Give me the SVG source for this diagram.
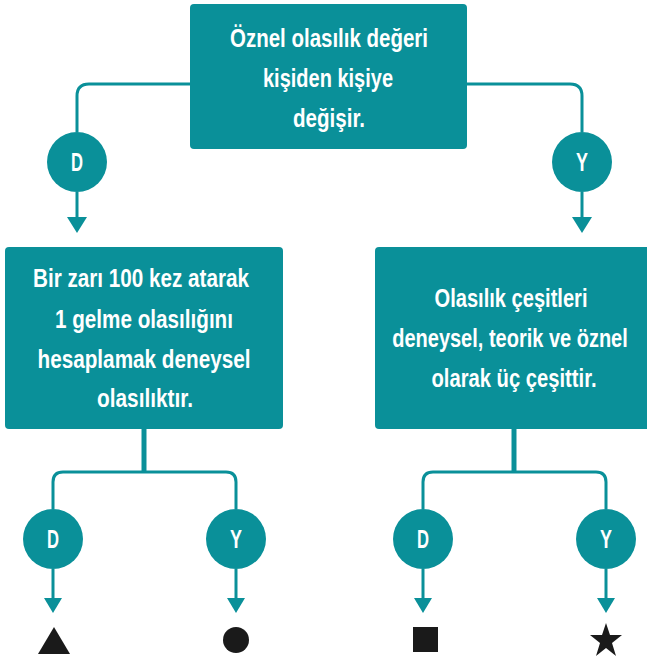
<svg xmlns="http://www.w3.org/2000/svg" width="647" height="663" viewBox="0 0 647 663">
<defs>
<style>
.box{fill:#0a9099;}
.t{font-family:"Liberation Sans",Arial,sans-serif;font-weight:bold;font-size:25px;fill:#fff;text-anchor:middle;}
.c{fill:#0a9099;}
.ct{font-family:"Liberation Sans",Arial,sans-serif;font-weight:bold;font-size:25px;fill:#fff;text-anchor:middle;}
.ln{fill:none;stroke:#0a9099;stroke-width:3;}
.thick{fill:none;stroke:#0a9099;stroke-width:5;}
.ah{fill:#0a9099;}
.sym{fill:#1a1a1a;}
</style>
</defs>
<rect width="647" height="663" fill="#fff"/>
<g id="connectors">
<path class="ln" d="M190,84 H89 Q77,84 77,96 V132"/>
<path class="ln" d="M77,192 V220"/>
<polygon class="ah" points="67,217 87,217 77,233"/>
<path class="ln" d="M467,84 H570 Q582,84 582,96 V132"/>
<path class="ln" d="M582,192 V220"/>
<polygon class="ah" points="572,217 592,217 582,233"/>
<path class="thick" d="M144,429 V472"/>
<path class="ln" d="M53,509 V482 Q53,472 63,472 H226 Q236,472 236,482 V509"/>
<path class="ln" d="M53,569 V600"/>
<polygon class="ah" points="44,598 62,598 53,613"/>
<path class="ln" d="M236,569 V600"/>
<polygon class="ah" points="227,598 245,598 236,613"/>
<path class="thick" d="M514,429 V472"/>
<path class="ln" d="M423,509 V482 Q423,472 433,472 H596 Q606,472 606,482 V509"/>
<path class="ln" d="M423,569 V600"/>
<polygon class="ah" points="414,598 432,598 423,613"/>
<path class="ln" d="M606,569 V600"/>
<polygon class="ah" points="597,598 615,598 606,613"/>
</g>
<g id="top">
<rect class="box" x="190" y="4" width="277" height="145" rx="4"/>
<text class="t" x="329" y="47" textLength="198" lengthAdjust="spacingAndGlyphs">Öznel olasılık değeri</text>
<text class="t" x="328" y="87" textLength="130" lengthAdjust="spacingAndGlyphs">kişiden kişiye</text>
<text class="t" x="329" y="127" textLength="72" lengthAdjust="spacingAndGlyphs">değişir.</text>
</g>
<g id="d1"><circle class="c" cx="77" cy="162" r="30"/><text class="ct" x="77" y="171" textLength="12" lengthAdjust="spacingAndGlyphs">D</text></g>
<g id="y1"><circle class="c" cx="582" cy="162" r="30"/><text class="ct" x="582" y="171" textLength="12" lengthAdjust="spacingAndGlyphs">Y</text></g>
<g id="left">
<rect class="box" x="5" y="247" width="278" height="182" rx="4"/>
<text class="t" x="141" y="287" textLength="216" lengthAdjust="spacingAndGlyphs">Bir zarı 100 kez atarak</text>
<text class="t" x="144" y="328" textLength="178" lengthAdjust="spacingAndGlyphs">1 gelme olasılığını</text>
<text class="t" x="144" y="368" textLength="213" lengthAdjust="spacingAndGlyphs">hesaplamak deneysel</text>
<text class="t" x="145" y="407" textLength="96" lengthAdjust="spacingAndGlyphs">olasılıktır.</text>
</g>
<g id="right">
<path class="box" d="M379,247 H647 V429 H379 Q375,429 375,425 V251 Q375,247 379,247 Z"/>
<text class="t" x="511" y="307" textLength="153" lengthAdjust="spacingAndGlyphs">Olasılık çeşitleri</text>
<text class="t" transform="translate(510,347) scale(0.78,1)" x="0" y="0" textLength="302" lengthAdjust="spacingAndGlyphs">deneysel, teorik ve öznel</text>
<text class="t" x="514" y="387" textLength="165" lengthAdjust="spacingAndGlyphs">olarak üç çeşittir.</text>
</g>
<g id="d2"><circle class="c" cx="53" cy="539" r="30"/><text class="ct" x="53" y="548" textLength="12" lengthAdjust="spacingAndGlyphs">D</text></g>
<g id="y2"><circle class="c" cx="236" cy="539" r="30"/><text class="ct" x="236" y="548" textLength="12" lengthAdjust="spacingAndGlyphs">Y</text></g>
<g id="d3"><circle class="c" cx="423" cy="539" r="30"/><text class="ct" x="423" y="548" textLength="12" lengthAdjust="spacingAndGlyphs">D</text></g>
<g id="y3"><circle class="c" cx="606" cy="539" r="30"/><text class="ct" x="606" y="548" textLength="12" lengthAdjust="spacingAndGlyphs">Y</text></g>
<g id="triangle"><polygon class="sym" points="38,654 70,654 54,627"/></g>
<g id="circle"><circle class="sym" cx="236" cy="640" r="13"/></g>
<g id="square"><rect class="sym" x="413" y="627" width="25" height="25"/></g>
<g id="star"><polygon class="sym" points="606,623 610,635 622,635 612,643 616,656 606,648 596,656 600,643 590,635 602,635"/></g>
</svg>
